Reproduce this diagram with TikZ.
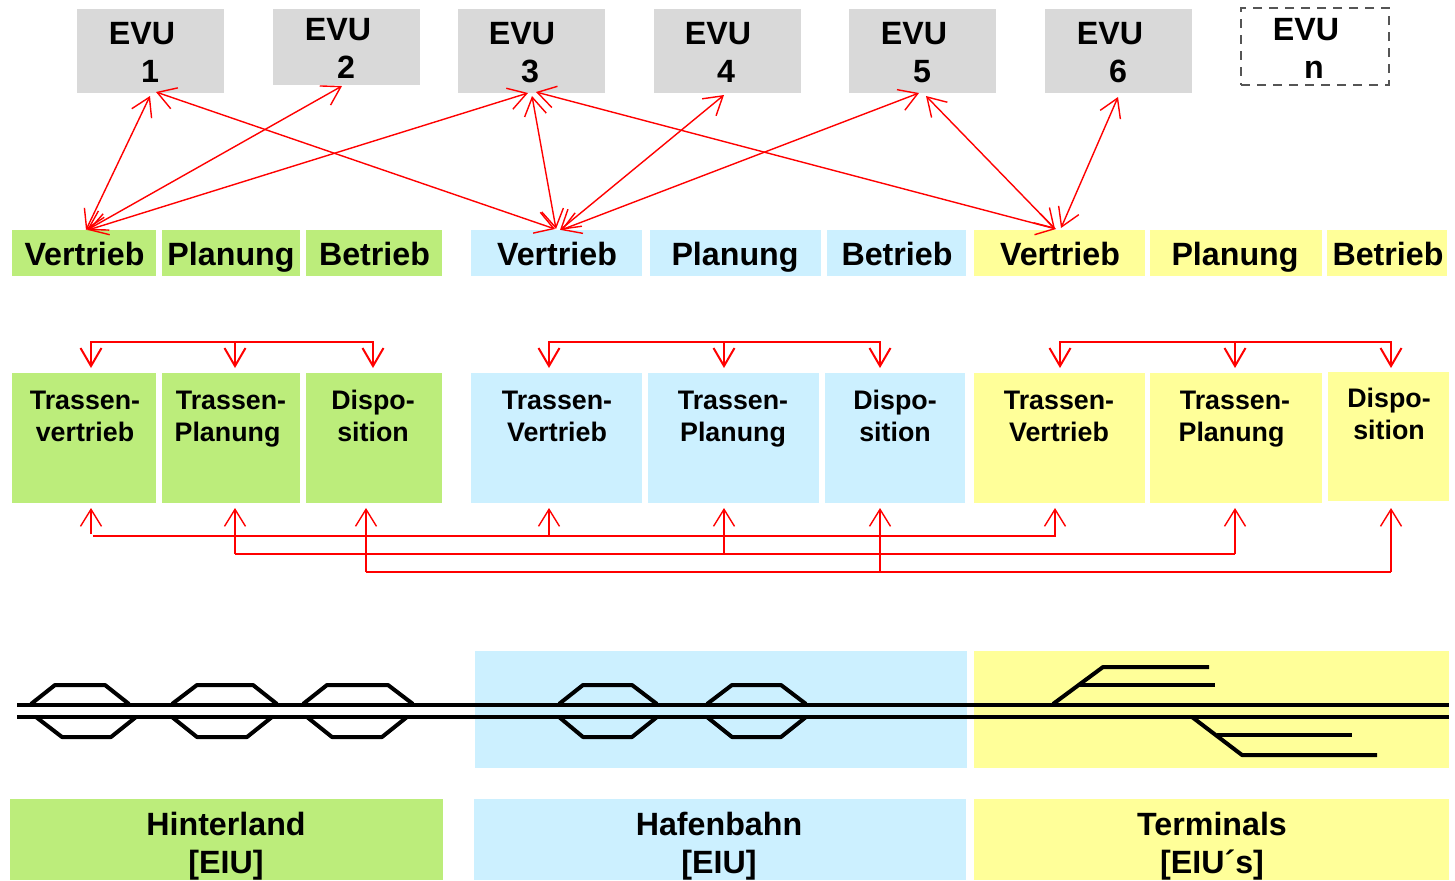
\documentclass[tikz,border=0pt]{standalone}
\usepackage{fontspec}
\setmainfont{Liberation Sans}
\usetikzlibrary{arrows.meta}
\definecolor{grn}{HTML}{BCED7B}
\definecolor{blu}{HTML}{CCF0FF}
\definecolor{yel}{HTML}{FFFF99}
\definecolor{gry}{HTML}{D9D9D9}
\definecolor{dgry}{HTML}{555555}
\newcommand{\st}{\strut}
\newcommand{\bx}[9]{%
  \node[boxbase,#6,minimum width={(#4-#2)*0.5pt},minimum height={(#5-#3)*0.5pt}] (#1) at ({(#2+#4)/2},{(#3+#5)/2}) {};
  \node[txtbase,#7] (#1t) at (#8) {#9};
}
\tikzset{
  x=0.5pt,y=-0.5pt,
  boxbase/.style={inner sep=0,outer sep=0,draw=none},
  txtbase/.style={inner sep=0,outer sep=0,align=center},
  big/.style={font=\fontsize{16.1pt}{19pt}\selectfont\bfseries},
  small/.style={font=\fontsize{13.4pt}{16pt}\selectfont\bfseries},
  green/.style={fill=grn}, blue/.style={fill=blu}, yellow/.style={fill=yel}, grey/.style={fill=gry},
  dashbox/.style={draw=dgry,line width=1.3pt,dash pattern=on 4.5pt off 3.5pt},
  red1/.style={draw=red,line width=0.7pt},
  red2/.style={draw=red,line width=1pt},
  hd/.style={-{Straight Barb[length=8.5pt,width=10.5pt,line width=0.7pt]}},
  hdd/.style={{Straight Barb[length=9pt,width=11pt,line width=0.7pt]}-{Straight Barb[length=9pt,width=11pt,line width=0.7pt]}},
  hdb/.style={-{Straight Barb[length=9pt,width=10.5pt,line width=1pt]}},
  track/.style={draw=black,line width=2pt,line join=round},
}
\begin{document}
\begin{tikzpicture}
\useasboundingbox (0,0) rectangle (1455,880);
% EVU
\bx{e1}{77}{9}{224}{93}{grey}{big}{142,56}{\st EVU\\\st\hspace*{8pt}1}
\bx{e2}{273}{9}{420}{85}{grey}{big}{338,52}{\st EVU\\\st\hspace*{8pt}2}
\bx{e3}{458}{9}{605}{93}{grey}{big}{522,56}{\st EVU\\\st\hspace*{8pt}3}
\bx{e4}{654}{9}{801}{93}{grey}{big}{718,56}{\st EVU\\\st\hspace*{8pt}4}
\bx{e5}{849}{9}{996}{93}{grey}{big}{914,56}{\st EVU\\\st\hspace*{8pt}5}
\bx{e6}{1045}{9}{1192}{93}{grey}{big}{1110,56}{\st EVU\\\st\hspace*{8pt}6}
\bx{en}{1241}{8}{1389}{85}{dashbox}{big}{1306,52}{\st EVU\\\st\hspace*{8pt}n}
% row 2
\bx{gv}{12}{230}{156}{276}{green}{big}{84.5,258}{\st Vertrieb}
\bx{gp}{162}{230}{300}{276}{green}{big}{231,258}{\st Planung}
\bx{gb}{306}{230}{442}{276}{green}{big}{374.5,258}{\st Betrieb}
\bx{bv}{471}{230}{642}{276}{blue}{big}{557,258}{\st Vertrieb}
\bx{bp}{650}{230}{821}{276}{blue}{big}{735,258}{\st Planung}
\bx{bb}{827}{230}{966}{276}{blue}{big}{897,258}{\st Betrieb}
\bx{yv}{974}{230}{1145}{276}{yellow}{big}{1060,258}{\st Vertrieb}
\bx{yp}{1150}{230}{1322}{276}{yellow}{big}{1235,258}{\st Planung}
\bx{yb}{1327}{230}{1447}{276}{yellow}{big}{1388,258}{\st Betrieb}
% row 3
\bx{gtv}{12}{373}{156}{503}{green}{small}{85,419}{\st Trassen-\\\st vertrieb}
\bx{gtp}{162}{373}{300}{503}{green}{small}{231,419}{\st Trassen-\\\st Planung\hspace*{3.5pt}}
\bx{gd}{306}{373}{442}{503}{green}{small}{373,419}{\st Dispo-\\\st sition}
\bx{btv}{471}{373}{642}{503}{blue}{small}{557,419}{\st Trassen-\\\st Vertrieb}
\bx{btp}{648}{373}{819}{503}{blue}{small}{733,419}{\st Trassen-\\\st Planung}
\bx{bd}{825}{373}{965}{503}{blue}{small}{895,419}{\st Dispo-\\\st sition}
\bx{ytv}{974}{373}{1145}{503}{yellow}{small}{1059,419}{\st Trassen-\\\st Vertrieb}
\bx{ytp}{1150}{373}{1322}{503}{yellow}{small}{1235,419}{\st Trassen-\\\st Planung\hspace*{3.5pt}}
\bx{yd}{1328}{372}{1449}{501}{yellow}{small}{1389,417}{\st Dispo-\\\st sition}
% region bands
\node[boxbase,blue,minimum width=246pt,minimum height=58.5pt] (bandb) at (721,709.5) {};
\node[boxbase,yellow,minimum width=237.5pt,minimum height=58.5pt] (bandy) at (1211.5,709.5) {};
% bottom
\bx{lg}{10}{799}{443}{880}{green}{big}{226,847}{\st Hinterland\\\st [EIU]}
\bx{lb}{474}{799}{966}{880}{blue}{big}{719,847}{\st Hafenbahn\\\st [EIU]}
\bx{ly}{974}{799}{1449}{880}{yellow}{big}{1212,847}{\st Terminals\\\st [EIU´s]}
% tracks
\draw[track] (17,704.5) -- (1449,704.5);
\draw[track] (17,717) -- (1449,717);
\draw[track] (31,704) -- (55,685) -- (105,685) -- (129,704);
\draw[track] (172,704) -- (197,685) -- (253,685) -- (277,704);
\draw[track] (303,704) -- (327,685) -- (388,685) -- (413,704);
\draw[track] (36,717) -- (62,737) -- (111,737) -- (136,717);
\draw[track] (172,717) -- (197,737) -- (247,737) -- (272,717);
\draw[track] (307,717) -- (332,737) -- (382,737) -- (407,717);
\draw[track] (559,704) -- (583,685) -- (632,685) -- (657,704);
\draw[track] (707,704) -- (732,685) -- (781,685) -- (806,704);
\draw[track] (559,717) -- (583,737) -- (632,737) -- (657,717);
\draw[track] (707,717) -- (732,737) -- (781,737) -- (806,717);
\draw[track] (1053,704) -- (1103,667) -- (1209,667);
\draw[track] (1078,685) -- (1215,685);
\draw[track] (1192,717) -- (1242,755) -- (1377,755);
\draw[track] (1217,735) -- (1352,735);
% ports of the upper connectors
\coordinate (e1a) at (150,96); \coordinate (e1b) at (156,92);
\coordinate (e2a) at (342,86);
\coordinate (e3a) at (528,93); \coordinate (e3b) at (532,96); \coordinate (e3c) at (536,92);
\coordinate (e4a) at (724,95);
\coordinate (e5a) at (919,93); \coordinate (e5b) at (926,96);
\coordinate (e6a) at (1118,97);
\coordinate (gv1) at (86,230); \coordinate (gv2) at (87,230); \coordinate (gv3) at (88,230);
\coordinate (bv1) at (555,229); \coordinate (bv2) at (556,229); \coordinate (bv3) at (560,230); \coordinate (bv4) at (561,230);
\coordinate (yv1) at (1056,229); \coordinate (yv2) at (1055,229); \coordinate (yv3) at (1061,228);
\draw[red1,hdd] (gv1) -- (e1a);
\draw[red1,hdd] (gv2) -- (e2a);
\draw[red1,hdd] (gv3) -- (e3a);
\draw[red1,hdd] (e1b) -- (bv1);
\draw[red1,hdd] (e3b) -- (bv2);
\draw[red1,hdd] (e4a) -- (bv3);
\draw[red1,hdd] (e5a) -- (bv4);
\draw[red1,hdd] (e3c) -- (yv1);
\draw[red1,hdd] (e5b) -- (yv2);
\draw[red1,hdd] (e6a) -- (yv3);
% buses above row 3
\coordinate (g1) at (91,368); \coordinate (g2) at (235,368); \coordinate (g3) at (373,368);
\coordinate (b1) at (549,368); \coordinate (b2) at (724,368); \coordinate (b3) at (880,368);
\coordinate (y1) at (1060,368); \coordinate (y2) at (1235,368); \coordinate (y3) at (1391,368);
\coordinate (gbus1) at (91,342); \coordinate (gbus2) at (235,342); \coordinate (gbus3) at (373,342);
\coordinate (bbus1) at (549,342); \coordinate (bbus2) at (724,342); \coordinate (bbus3) at (880,342);
\coordinate (ybus1) at (1060,342); \coordinate (ybus2) at (1235,342); \coordinate (ybus3) at (1391,342);
\draw[red2,hdb] (gbus3) -- (gbus1) -- (g1);
\draw[red2,hdb] (gbus2) -- (g2);
\draw[red2,hdb] (gbus1) -| (g3);
\draw[red2,hdb] (bbus3) -- (bbus1) -- (b1);
\draw[red2,hdb] (bbus2) -- (b2);
\draw[red2,hdb] (bbus1) -| (b3);
\draw[red2,hdb] (ybus3) -- (ybus1) -- (y1);
\draw[red2,hdb] (ybus2) -- (y2);
\draw[red2,hdb] (ybus1) -| (y3);
% buses below row 3
\coordinate (gu1) at (91,508); \coordinate (gu2) at (235,508); \coordinate (gu3) at (366,508);
\coordinate (bu1) at (549,508); \coordinate (bu2) at (724,508); \coordinate (bu3) at (880,508);
\coordinate (yu1) at (1055,508); \coordinate (yu2) at (1235,508); \coordinate (yu3) at (1391,508);
\coordinate (gs1) at (91,534); \coordinate (l1a) at (93,536); \coordinate (l1b) at (1056,536);
\coordinate (l2a) at (235,554); \coordinate (l2b) at (1235,554);
\coordinate (l3a) at (366,572); \coordinate (l3b) at (1391,572);
\coordinate (t1) at (549,536); \coordinate (t2) at (1055,536); \coordinate (t3) at (724,554); \coordinate (t4) at (880,572);
\draw[red1,hd] (gs1) -- (gu1);
\draw[red1] (l1a) -- (l1b);
\draw[red1,hd] (t1) -- (bu1);
\draw[red1,hd] (t2) -- (yu1);
\draw[red1] (l2a) -- (l2b);
\draw[red1,hd] (l2a) -- (gu2);
\draw[red1,hd] (t3) -- (bu2);
\draw[red1,hd] (l2b) -- (yu2);
\draw[red1] (l3a) -- (l3b);
\draw[red1,hd] (l3a) -- (gu3);
\draw[red1,hd] (t4) -- (bu3);
\draw[red1,hd] (l3b) -- (yu3);
\end{tikzpicture}
\end{document}
